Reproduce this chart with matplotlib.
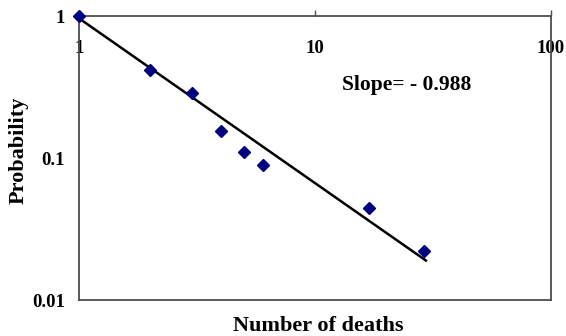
import numpy as np
import matplotlib
matplotlib.use('Agg')
import matplotlib.pyplot as plt

# observed points (number of deaths vs probability)
deaths = [1, 2, 3, 4, 5, 6, 17, 29]
prob = [1.0, 0.42, 0.29, 0.155, 0.111, 0.089, 0.0445, 0.0223]

# fitted power-law line, end points
fit_x = [1, 29.5]
fit_y = [0.97, 0.019]

x_ticks = [1, 10, 100]
x_labels = ['1', '10', '100']
y_ticks = [0.01, 0.1, 1]
y_labels = ['0.01', '0.1', '1']

plt.rcParams['font.family'] = ['Liberation Serif', 'DejaVu Serif']
plt.rcParams['font.weight'] = 'bold'

fig = plt.figure(figsize=(5.66, 3.36), dpi=100)
ax = fig.add_axes([0.1396, 0.107, 0.834, 0.844])

ax.plot(fit_x, fit_y, color='black', lw=1.8, zorder=2)
ax.plot(deaths, prob, linestyle='none', marker='D', ms=6, color='#000080',
        clip_on=False, zorder=3)

ax.set_xscale('log')
ax.set_yscale('log')
ax.set_xlim(1, 100)
ax.set_ylim(0.01, 1)

ax.set_xticks(x_ticks)
ax.set_xticklabels(x_labels)
ax.set_yticks(y_ticks)
ax.set_yticklabels(y_labels)
ax.minorticks_off()

ax.xaxis.tick_top()
ax.tick_params(axis='x', direction='out', length=4, width=1, color='#4d4d4d',
               pad=-33, labelsize=13.5)
ax.tick_params(axis='y', length=0, pad=10, labelsize=13.5)

for s in ax.spines.values():
    s.set_color('#4d4d4d')
    s.set_linewidth(1.3)

ax.set_xlabel('Number of deaths', fontsize=16, fontweight='bold')
ax.xaxis.set_label_position('bottom')
ax.xaxis.set_label_coords(0.507, -0.056)
ax.xaxis.label.set_va('top')
ax.set_ylabel('Probability', fontsize=16, fontweight='bold')
ax.yaxis.set_label_coords(-0.106, 0.528)

ax.text(0.557, 0.757, 'Slope= - 0.988', transform=ax.transAxes,
        ha='left', va='center', fontsize=15.5, fontweight='bold')

fig.savefig('out.png', dpi=100)
